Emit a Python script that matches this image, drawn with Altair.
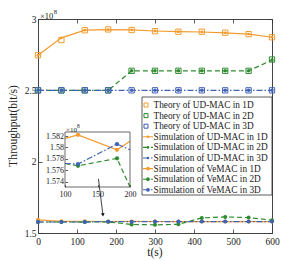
import altair as alt
import pandas as pd

# ---------------- data (throughput in units of 1e8 bit/s) ----------------
t = [0, 60, 120, 180, 240, 300, 360, 420, 480, 540, 600]

theory_ud_1d = [2.746, 2.852, 2.921, 2.927, 2.923, 2.915, 2.911, 2.911, 2.904, 2.894, 2.872]
theory_ud_2d = [2.5, 2.5, 2.5, 2.5, 2.637, 2.637, 2.637, 2.637, 2.637, 2.637, 2.716]
theory_ud_3d = [2.5, 2.5, 2.5, 2.5, 2.5, 2.5, 2.5, 2.5, 2.5, 2.5, 2.5]

sim_ud_1d = [2.746, 2.868, 2.922, 2.926, 2.924, 2.916, 2.911, 2.909, 2.903, 2.894, 2.872]
sim_ud_2d = [2.5, 2.5, 2.5, 2.5, 2.637, 2.637, 2.637, 2.637, 2.637, 2.637, 2.712]
sim_ud_3d = [2.5, 2.5, 2.5, 2.5, 2.5, 2.5, 2.5, 2.5, 2.5, 2.5, 2.5]

sim_ve_1d = [1.592, 1.5816, 1.5822, 1.5796, 1.5811, 1.5805, 1.5802, 1.5803, 1.5801, 1.5800, 1.5802]
sim_ve_2d = [1.5771, 1.5772, 1.5768, 1.5781, 1.5600, 1.5570, 1.5610, 1.6060, 1.6130, 1.6080, 1.5900]
sim_ve_3d = [1.5771, 1.5772, 1.5771, 1.5806, 1.5796, 1.5800, 1.5801, 1.5802, 1.5800, 1.5801, 1.5800]

x_ticks = [0, 100, 200, 300, 400, 500, 600]
y_ticks = [1.5, 2, 2.5, 3]
inset_x_ticks = [100, 150, 200]
inset_y_ticks = [1.574, 1.576, 1.578, 1.58, 1.582]

legend_labels = [
    "Theory of UD-MAC in 1D",
    "Theory of UD-MAC in 2D",
    "Theory of UD-MAC in 3D",
    "Simulation of UD-MAC in 1D",
    "Simulation of UD-MAC in 2D",
    "Simulation of UD-MAC in 3D",
    "Simulation of VeMAC in 1D",
    "Simulation of VeMAC in 2D",
    "Simulation of VeMAC in 3D",
]
legend_dim = ["1D", "2D", "3D"] * 3
legend_kind = ["theory"] * 3 + ["ud"] * 3 + ["ve"] * 3

arrow_t = [155, 166.5]
arrow_v = [1.88, 1.627]

# ---------------- styles ----------------
FONT = "Liberation Serif"
ORANGE = "#F39B2E"
GREEN = "#2E8B2E"
BLUE = "#3F62B5"
DASH2 = [5, 3]
DASH3 = [6, 2, 1.5, 2]
W, H = 234, 214

X_MAIN = alt.Scale(domain=[0, 600], nice=False)
Y_MAIN = alt.Scale(domain=[1.5, 3], nice=False, zero=False)

ax_bottom = alt.Axis(orient="bottom", values=x_ticks, offset=-4, tickSize=4, domain=False,
                     grid=False, labelPadding=3, labelFlush=False, labelFontSize=9.5, title=None)
ax_left = alt.Axis(orient="left", values=y_ticks, format="~g", offset=-4, tickSize=4, domain=False,
                   grid=False, labelPadding=2, labelFontSize=9.5, title=None)
ax_top = alt.Axis(orient="top", values=x_ticks, offset=-4, tickSize=4, domain=False,
                  grid=False, labels=False, title=None)
ax_right = alt.Axis(orient="right", values=y_ticks, offset=-4, tickSize=4, domain=False,
                    grid=False, labels=False, title=None)

MX = alt.X("t:Q", scale=X_MAIN, axis=ax_bottom)
MY = alt.Y("v:Q", scale=Y_MAIN, axis=ax_left)


def sdf(vals):
    return pd.DataFrame({"t": t, "v": vals})


def theory(vals, color):
    return alt.Chart(sdf(vals)).mark_point(shape="square", filled=False, size=28, strokeWidth=1,
                                           color=color, opacity=1).encode(x=MX, y=MY)


def sim(vals, color, dash, msize):
    base = alt.Chart(sdf(vals)).encode(x=MX, y=MY)
    if dash:
        ln = base.mark_line(color=color, strokeWidth=1.2, strokeDash=dash)
    else:
        ln = base.mark_line(color=color, strokeWidth=1.2)
    pt = base.mark_point(color=color, filled=True, size=msize, shape="circle", opacity=1)
    return [ln, pt]


main_layers = []
main_layers += sim(sim_ve_1d, ORANGE, None, 16)
main_layers += sim(sim_ve_2d, GREEN, DASH2, 16)
main_layers += sim(sim_ve_3d, BLUE, DASH3, 16)
main_layers.append(theory(theory_ud_1d, ORANGE))
main_layers += sim(sim_ud_1d, ORANGE, None, 8)
main_layers.append(theory(theory_ud_2d, GREEN))
main_layers += sim(sim_ud_2d, GREEN, DASH2, 12)
main_layers.append(theory(theory_ud_3d, BLUE))
main_layers += sim(sim_ud_3d, BLUE, DASH3, 12)

arrow_df = pd.DataFrame({"t": [arrow_t[0]], "v": [arrow_v[0]], "t2": [arrow_t[1]], "v2": [arrow_v[1]]})
main_layers.append(alt.Chart(arrow_df).mark_rule(color="#111", strokeWidth=0.8)
                   .encode(x=MX, y=MY, x2="t2:Q", y2="v2:Q"))
head_df = pd.DataFrame({"t": [arrow_t[1]], "v": [arrow_v[1]]})
main_layers.append(alt.Chart(head_df).mark_point(shape="triangle-down", filled=True, size=14,
                                                 color="#111", angle=353, opacity=1)
                   .encode(x=MX, y=MY))
main = alt.layer(*main_layers)

dummy = alt.Chart(sdf(sim_ud_3d)).mark_point(opacity=0).encode(
    x=alt.X("t:Q", scale=X_MAIN, axis=ax_top),
    y=alt.Y("v:Q", scale=Y_MAIN, axis=ax_right),
)

# ---------------- inset ----------------
XI = alt.Scale(domain=[100, 200], range=[27, 92], clamp=True, nice=False)
YI = alt.Scale(domain=[1.5731, 1.5827], range=[168, 113], clamp=True, nice=False, zero=False)
ax_ib = alt.Axis(orient="bottom", values=inset_x_ticks, offset=-(H - 168) - 2.5, tickSize=2.5,
                 domain=False, grid=False, labelPadding=3, labelFlush=False, labelFontSize=8, title=None)
ax_il = alt.Axis(orient="left", values=inset_y_ticks, format="~g", offset=-27 - 2.5, tickSize=2.5,
                 domain=False, grid=False, labelPadding=1.5, labelFontSize=8, title=None)
IX = alt.X("t:Q", scale=XI, axis=ax_ib)
IY = alt.Y("v:Q", scale=YI, axis=ax_il)

inset_layers = []
for vals, color, dash in [(sim_ve_1d, ORANGE, None), (sim_ve_2d, GREEN, DASH2), (sim_ve_3d, BLUE, DASH3)]:
    base = alt.Chart(sdf(vals)).encode(x=IX, y=IY)
    lb = base.transform_filter(alt.FieldRangePredicate(field="t", range=[60, 240]))
    if dash:
        inset_layers.append(lb.mark_line(color=color, strokeWidth=1.2, strokeDash=dash))
    else:
        inset_layers.append(lb.mark_line(color=color, strokeWidth=1.2))
    inset_layers.append(base.transform_filter(alt.FieldRangePredicate(field="t", range=[100, 200]))
                        .mark_point(color=color, filled=True, size=18, opacity=1))
inset = alt.layer(*inset_layers)

one = pd.DataFrame({"a": [0]})
inset_frame = alt.Chart(one).mark_rect(fillOpacity=0, stroke="#444", strokeWidth=0.8).encode(
    x=alt.value(27), x2=alt.value(92), y=alt.value(113), y2=alt.value(168))


def label(txt, x, y, size, **kw):
    return alt.Chart(one).mark_text(text=txt, font=FONT, fontSize=size, color="#222", **kw).encode(
        x=alt.value(x), y=alt.value(y))


texts = [
    label("×10", 2, -0.5, 8.5, align="left", baseline="alphabetic"),
    label("8", 15.8, -5.5, 6.5, align="left", baseline="alphabetic"),
    label("×10", 28, 112.5, 7, align="left", baseline="alphabetic"),
    label("8", 39, 109, 5.5, align="left", baseline="alphabetic"),
    label("t(s)", 117, 234, 11.5, align="center", baseline="middle"),
    label("Throughput(bit/s)", -24, 107, 11.5, align="center", baseline="middle", angle=270),
]

# ---------------- legend ----------------
leg = pd.DataFrame({"label": legend_labels, "i": list(range(9)), "dim": legend_dim, "kind": legend_kind})
COLOR = alt.Scale(domain=["1D", "2D", "3D"], range=[ORANGE, GREEN, BLUE])
DASHS = alt.Scale(domain=["1D", "2D", "3D"], range=[[1, 0], DASH2, DASH3])
lbase = alt.Chart(leg).transform_calculate(ly="86 + datum.i * 10.6")
LY = alt.Y("ly:Q", scale=None, axis=None)
LC = alt.Color("dim:N", scale=COLOR, legend=None)

legend_box = alt.Chart(one).mark_rect(fill="white", stroke="#333", strokeWidth=0.8).encode(
    x=alt.value(104), x2=alt.value(234), y=alt.value(78), y2=alt.value(176))
leg_sq = lbase.transform_filter(alt.datum.kind == "theory").mark_point(
    shape="square", filled=False, size=16, strokeWidth=1, opacity=1).encode(x=alt.value(108), y=LY, color=LC)
leg_ln = lbase.transform_filter(alt.datum.kind != "theory").mark_rule(strokeWidth=1.1).encode(
    x=alt.value(105), x2=alt.value(115), y=LY, color=LC,
    strokeDash=alt.StrokeDash("dim:N", scale=DASHS, legend=None))
leg_ud = lbase.transform_filter(alt.datum.kind == "ud").mark_point(
    filled=True, size=7, opacity=1).encode(x=alt.value(110), y=LY, color=LC)
leg_ve = lbase.transform_filter(alt.datum.kind == "ve").mark_point(
    filled=True, size=14, opacity=1).encode(x=alt.value(110), y=LY, color=LC)
leg_tx = lbase.mark_text(align="left", baseline="middle", font=FONT, fontSize=9.3, color="#222").encode(
    x=alt.value(115.5), y=LY, text="label:N")

chart = (
    alt.layer(main, dummy, inset, inset_frame, legend_box, leg_ln, leg_sq, leg_ud, leg_ve, leg_tx, *texts)
    .resolve_scale(x="independent", y="independent")
    .properties(width=W, height=H, padding={"left": 30, "top": 11, "right": 20, "bottom": 28},
                autosize=alt.AutoSizeParams(type="none"))
    .configure_view(stroke="#444", strokeWidth=1)
    .configure_axis(labelFont=FONT, labelColor="#222", tickColor="#333", tickWidth=0.8)
)

chart.save("out.html", embed_options={"renderer": "svg", "actions": False})
